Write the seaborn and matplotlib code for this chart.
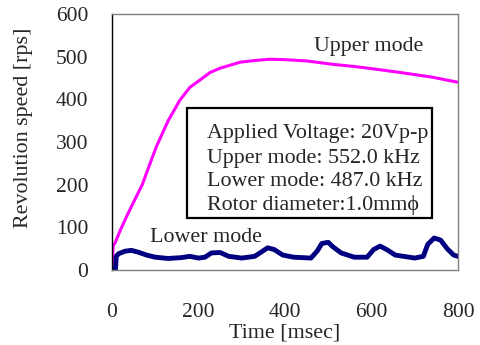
import matplotlib
matplotlib.use("Agg")
import matplotlib.pyplot as plt
from matplotlib.patches import Rectangle
import seaborn as sns
import pandas as pd

# Upper mode curve
upper_t = [0, 3, 7, 20, 35, 49, 70, 90, 103, 130, 157, 180, 203, 227, 250, 296, 330,
           365, 400, 450, 511, 560, 600, 666, 700, 740, 770, 800]
upper_v = [0, 58, 63, 95, 128, 157, 200, 255, 290, 350, 398, 428, 445, 463, 473, 487,
           491, 494, 493, 490, 482, 477, 472, 463, 458, 452, 446, 440]

# Lower mode curve
lower_t = [0, 8, 10, 15, 30, 45, 60, 80, 100, 130, 160, 180, 200, 215, 230, 250, 270,
           300, 330, 345, 360, 375, 395, 420, 460, 475, 485, 500, 510, 530, 560, 590,
           605, 620, 635, 655, 700, 720, 730, 745, 760, 775, 790, 800]
lower_v = [0, 0, 32, 38, 44, 46, 42, 35, 30, 27, 29, 32, 28, 30, 40, 41, 32,
           28, 32, 42, 52, 48, 35, 30, 28, 45, 62, 65, 55, 40, 30, 30,
           48, 56, 48, 35, 28, 32, 60, 75, 70, 50, 35, 32]

info_lines = ["Applied Voltage: 20Vp-p", "Upper mode: 552.0 kHz",
              "Lower mode: 487.0 kHz", "Rotor diameter:1.0mm\u03d5"]

df = pd.concat([
    pd.DataFrame({"t": upper_t, "v": upper_v, "mode": "Upper mode"}),
    pd.DataFrame({"t": lower_t, "v": lower_v, "mode": "Lower mode"}),
])

sns.set_style("white")
plt.rcParams["font.family"] = ["Liberation Serif", "DejaVu Serif"]
fs = 15.8
fs_tick = 15.5

fig = plt.figure(figsize=(4.81, 3.45), dpi=100)
ax = fig.add_axes([0.2328, 0.2174, 0.7193, 0.742])

sns.lineplot(data=df[df["mode"] == "Upper mode"], x="t", y="v", color="#FF00FF",
             lw=2.2, ax=ax, legend=False)
sns.lineplot(data=df[df["mode"] == "Lower mode"], x="t", y="v", color="#000080",
             lw=3.5, ax=ax, legend=False)

ax.set_xlim(0, 800)
ax.set_ylim(0, 600)
ax.set_xticks(range(0, 801, 200))
ax.set_yticks(range(0, 601, 100))
ax.tick_params(axis="x", direction="in", length=5, pad=24, labelsize=fs_tick,
               color="#555555")
ax.tick_params(axis="y", direction="in", length=5, pad=17, labelsize=fs_tick,
               color="#555555")
for name, s in ax.spines.items():
    s.set_color("black" if name == "left" else "#808080")
    s.set_linewidth(1.0)

ax.set_xlabel("Time [msec]", fontsize=fs, labelpad=1)
ax.set_ylabel("Revolution speed [rps]", fontsize=fs)
ax.yaxis.set_label_coords(-0.228, 0.557)

ax.text(594, 523, "Upper mode", ha="center", va="center", fontsize=fs)
ax.text(218, 75, "Lower mode", ha="center", va="center", fontsize=fs)

# info box
ax.add_patch(Rectangle((173, 122), 740 - 173, 380 - 122, fill=True, fc="white",
                       ec="black", lw=1.6, zorder=3))
for line, yb in zip(info_lines, [309, 251, 197, 141]):
    ax.text(220, yb, line, ha="left", va="baseline", fontsize=fs, zorder=4)

fig.savefig("out.png", dpi=100)
